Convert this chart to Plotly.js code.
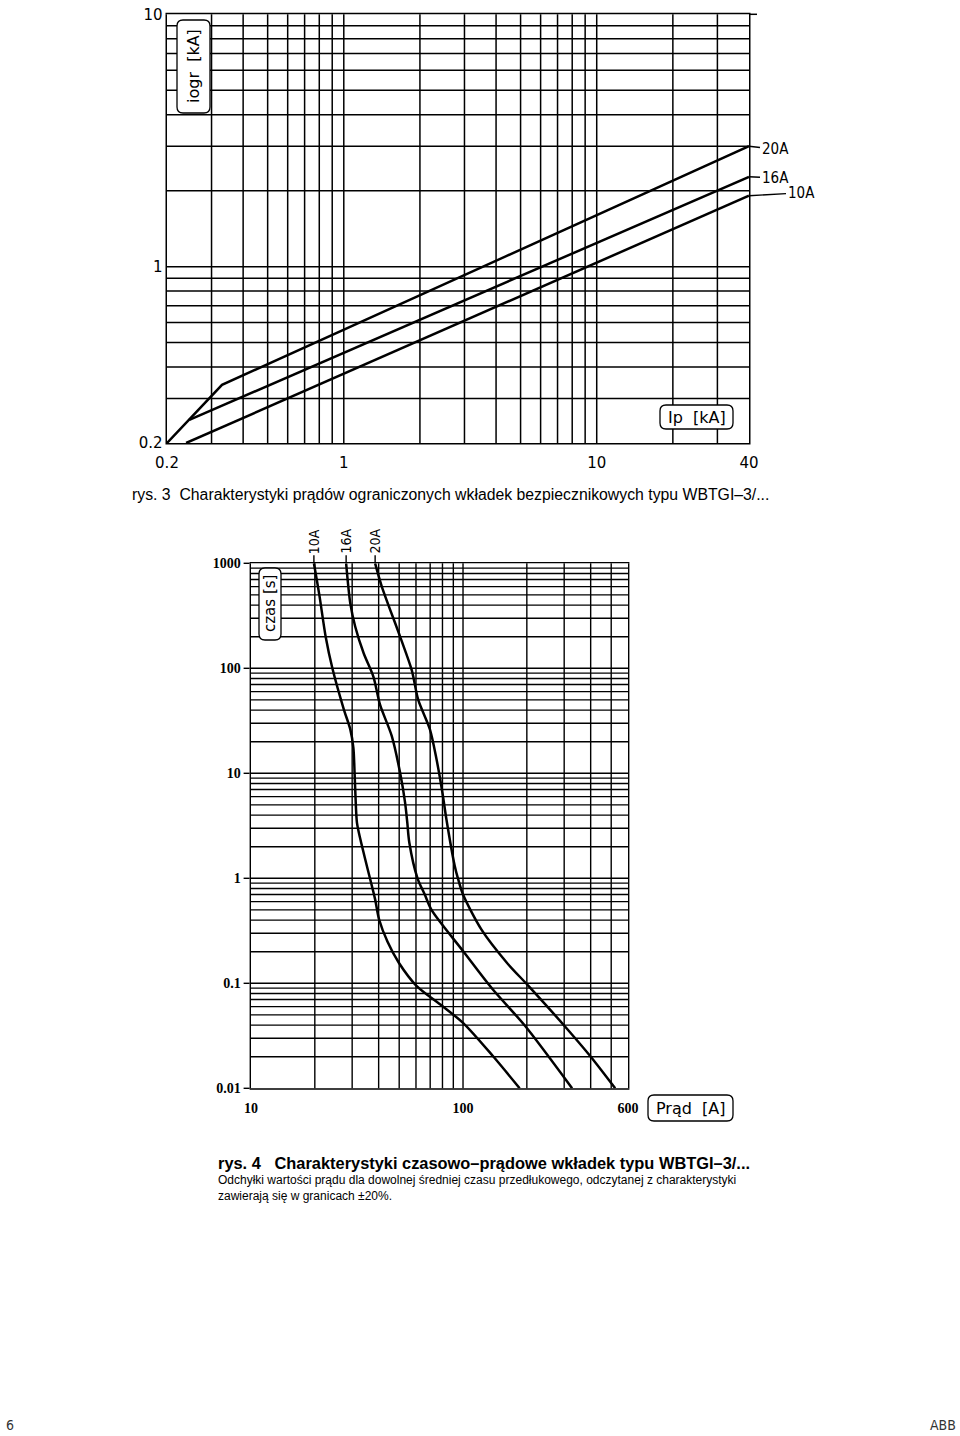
<!DOCTYPE html>
<html>
<head>
<meta charset="utf-8">
<script src="https://cdn.plot.ly/plotly-3.0.1.min.js"></script>
<style>
  body { margin: 0; background: #fff; }
  #chart { width: 960px; height: 1436px; }
  #chart path { shape-rendering: geometricPrecision !important; }
</style>
</head>
<body>
<div id="chart"></div>
<script>
// rys. 3 - prady ograniczone (log-log)
const ip_ticks = [0.2, 1, 10, 40];
const ip_tick_text = ['0.2', '1', '10', '40'];
const ip_minor = [0.3, 0.4, 0.5, 0.6, 0.7, 0.8, 0.9, 2, 3, 4, 5, 6, 7, 8, 9, 20, 30];
const iogr_ticks = [0.2, 1, 10];
const iogr_tick_text = ['0.2', '1', '10'];
const iogr_minor = [0.3, 0.4, 0.5, 0.6, 0.7, 0.8, 0.9, 2, 3, 4, 5, 6, 7, 8, 9];

const fuses = ['10A', '16A', '20A'];

const lim_10A_x = [0.238, 40];
const lim_10A_y = [0.2, 1.91];
const lim_16A_x = [0.245, 40];
const lim_16A_y = [0.247, 2.27];
const lim_20A_x = [0.2, 0.33, 40];
const lim_20A_y = [0.2, 0.34, 3.0];

// rys. 4 - czas / prad
const prad_ticks = [10, 100, 600];
const prad_tick_text = ['10', '100', '600'];
const prad_minor = [20, 30, 40, 50, 60, 70, 80, 90, 200, 300, 400, 500];
const czas_ticks = [0.01, 0.1, 1, 10, 100, 1000];
const czas_tick_text = ['0.01', '0.1', '1', '10', '100', '1000'];
const czas_minor = [0.02, 0.03, 0.04, 0.05, 0.06, 0.07, 0.08, 0.09,
    0.2, 0.3, 0.4, 0.5, 0.6, 0.7, 0.8, 0.9,
    2, 3, 4, 5, 6, 7, 8, 9,
    20, 30, 40, 50, 60, 70, 80, 90,
    200, 300, 400, 500, 600, 700, 800, 900];

const t_10A_x = [19.8, 21.0, 22.5, 24.2, 27.4, 29.4, 30.4, 30.8, 31.1, 31.6, 32.8, 35.2, 38.5, 40.2, 44.0, 49.8, 60.5, 79.6, 100, 138, 185];
const t_10A_y = [1000, 500, 200, 100, 40.7, 26.2, 17.5, 10.1, 6.1, 3.39, 2.35, 1.31, 0.63, 0.405, 0.25, 0.157, 0.094, 0.061, 0.042, 0.0204, 0.01];
const t_16A_x = [28.1, 29.4, 31.0, 34.0, 37.8, 40.6, 46.1, 50.5, 53.3, 54.6, 55.8, 61.0, 66.0, 71.0, 100, 138, 196, 327];
const t_16A_y = [1000, 416, 250, 139, 83, 45, 22.7, 10.1, 5.26, 3.39, 2.19, 1.0, 0.7, 0.5, 0.203, 0.0877, 0.0394, 0.01];
const t_20A_x = [38.5, 41.4, 50.5, 57.3, 61.5, 69.8, 75.0, 80.0, 83.5, 91.4, 95.0, 100, 122, 161, 204, 302, 397, 522];
const t_20A_y = [1000, 600, 200, 96, 50, 26.2, 13.6, 6.5, 3.65, 1.31, 0.97, 0.7, 0.326, 0.157, 0.094, 0.039, 0.0204, 0.01];

const W = 960, H = 1436;
const px = v => v / W;
const py = v => 1 - v / H;

// frames of the two charts, in pixels
const top_l = 167, top_r = 749, top_t = 14.3, top_b = 443;
const bot_l = 251, bot_r = 628, bot_t = 563.3, bot_b = 1088.3;

const narrow = 'Liberation Sans Narrow, DejaVu Sans Condensed, Arial Narrow, sans-serif';
const iso = 'DejaVu Sans, sans-serif';

function line(x, y, shape, xa, ya) {
    return {
        x: x, y: y, xaxis: xa, yaxis: ya,
        type: 'scatter', mode: 'lines',
        line: { color: '#000', width: 2.5, shape: shape, smoothing: 0.8 },
        hoverinfo: 'skip'
    };
}

function logAxis(domain, range, ticks, text, minor, font, gw, extra) {
    return Object.assign({
        type: 'log',
        domain: domain,
        range: range,
        tickmode: 'array',
        tickvals: ticks,
        ticktext: text,
        ticks: '',
        showgrid: true,
        gridcolor: '#000',
        gridwidth: gw,
        minor: { tickmode: 'array', tickvals: minor, showgrid: true, gridcolor: '#000', gridwidth: gw, ticks: '' },
        showline: true,
        mirror: true,
        linecolor: '#000',
        linewidth: gw,
        zeroline: false,
        tickfont: font,
        fixedrange: true
    }, extra || {});
}

function rrect(x0, y0, x1, y1, r) {
    const X = v => px(v).toFixed(5), Y = v => py(v).toFixed(5);
    return 'M' + X(x0 + r) + ',' + Y(y0) +
        ' L' + X(x1 - r) + ',' + Y(y0) +
        ' Q' + X(x1) + ',' + Y(y0) + ' ' + X(x1) + ',' + Y(y0 + r) +
        ' L' + X(x1) + ',' + Y(y1 - r) +
        ' Q' + X(x1) + ',' + Y(y1) + ' ' + X(x1 - r) + ',' + Y(y1) +
        ' L' + X(x0 + r) + ',' + Y(y1) +
        ' Q' + X(x0) + ',' + Y(y1) + ' ' + X(x0) + ',' + Y(y1 - r) +
        ' L' + X(x0) + ',' + Y(y0 + r) +
        ' Q' + X(x0) + ',' + Y(y0) + ' ' + X(x0 + r) + ',' + Y(y0) + ' Z';
}

function box(x0, y0, x1, y1) {
    return {
        type: 'path', xref: 'paper', yref: 'paper', layer: 'above',
        path: rrect(x0, y0, x1, y1, 6),
        fillcolor: '#fff', line: { color: '#000', width: 1.3 }
    };
}

function text(x, y, s, size, opts) {
    return Object.assign({
        xref: 'paper', yref: 'paper', x: px(x), y: py(y),
        text: s, showarrow: false, xanchor: 'left', yanchor: 'middle',
        font: { family: 'Liberation Sans, Arial, sans-serif', size: size, color: '#000' }
    }, opts || {});
}

// label hanging off the right end of a rys. 3 curve (log axis -> log10 position)
function endLabel(name, yv, ax, ay) {
    return {
        xref: 'paper', yref: 'y', x: px(top_r), y: Math.log10(yv), text: name,
        showarrow: true, arrowhead: 0, arrowwidth: 1.4, arrowcolor: '#000', standoff: 0,
        ax: ax, ay: ay, font: { family: narrow, size: 15, color: '#000' }
    };
}

// rotated label above the start of a rys. 4 curve
function topLabel(name, xv) {
    return {
        xref: 'x2', yref: 'paper', x: Math.log10(xv), y: py(bot_t), text: name, textangle: -90,
        showarrow: true, arrowhead: 0, arrowwidth: 1.4, arrowcolor: '#000', standoff: 0,
        ax: 0, ay: -22, font: { family: narrow, size: 14, color: '#000' }
    };
}

const data = [
    line(lim_10A_x, lim_10A_y, 'linear', 'x', 'y'),
    line(lim_16A_x, lim_16A_y, 'linear', 'x', 'y'),
    line(lim_20A_x, lim_20A_y, 'linear', 'x', 'y'),
    line(t_10A_x, t_10A_y, 'spline', 'x2', 'y2'),
    line(t_16A_x, t_16A_y, 'spline', 'x2', 'y2'),
    line(t_20A_x, t_20A_y, 'spline', 'x2', 'y2')
];

const topFont = { family: iso, size: 15, color: '#000' };
const botFont = { family: 'Liberation Serif, Times New Roman, serif', size: 14, color: '#000', weight: 'bold' };

const layout = {
    width: W, height: H, autosize: false,
    margin: { l: 0, r: 0, t: 0, b: 0 },
    paper_bgcolor: '#fff', plot_bgcolor: '#fff',
    showlegend: false,
    xaxis: logAxis([px(top_l), px(top_r)], [Math.log10(0.2), Math.log10(40)], ip_ticks, ip_tick_text, ip_minor, topFont, 1.5,
        { anchor: 'y', ticklabelstandoff: 5 }),
    yaxis: logAxis([py(top_b), py(top_t)], [Math.log10(0.2), 1], iogr_ticks, iogr_tick_text, iogr_minor, topFont, 1.5,
        { anchor: 'x' }),
    xaxis2: logAxis([px(bot_l), px(bot_r)], [1, Math.log10(600)], prad_ticks, prad_tick_text, prad_minor, botFont, 1.4,
        { anchor: 'y2', ticklabelstandoff: 6 }),
    yaxis2: logAxis([py(bot_b), py(bot_t)], [-2, 3], czas_ticks, czas_tick_text, czas_minor, botFont, 1.4,
        { anchor: 'x2', ticks: 'outside', ticklen: 6, tickwidth: 1.4, tickcolor: '#000' }),
    shapes: [
        // top line of rys. 3 runs a bit past the frame
        { type: 'line', xref: 'paper', yref: 'paper', x0: px(top_r), x1: px(757), y0: py(top_t), y1: py(top_t), line: { color: '#000', width: 1.5 } },
        box(177, 20, 210, 113),
        box(660, 405, 733, 429),
        box(259, 568, 281, 640),
        box(648, 1095, 733, 1121)
    ],
    annotations: [
        endLabel(fuses[2], lim_20A_y[lim_20A_y.length - 1], 26, 3),
        endLabel(fuses[1], lim_16A_y[lim_16A_y.length - 1], 26, 1),
        endLabel(fuses[0], lim_10A_y[lim_10A_y.length - 1], 52, -3),
        topLabel(fuses[0], t_10A_x[0]),
        topLabel(fuses[1], t_16A_x[0]),
        topLabel(fuses[2], t_20A_x[0]),
        // axis name boxes
        text(193.5, 66.5, 'iogr  [kA]', 16, { xanchor: 'center', textangle: -90, font: { family: iso, size: 16, color: '#000' } }),
        text(696.5, 417, 'Ip  [kA]', 16, { xanchor: 'center', font: { family: iso, size: 16, color: '#000' } }),
        text(270, 604, 'czas [s]', 15, { xanchor: 'center', textangle: -90, font: { family: iso, size: 15, color: '#000' } }),
        text(690.5, 1108, 'Prąd  [A]', 16, { xanchor: 'center', font: { family: iso, size: 16, color: '#000' } }),
        // captions
        text(130, 494, 'rys. 3  Charakterystyki prądów ograniczonych wkładek bezpiecznikowych typu WBTGI–3/...', 15.8),
        text(216, 1163, '<b>rys. 4   Charakterystyki czasowo–prądowe wkładek typu WBTGI–3/...</b>', 16.4),
        text(216, 1180, 'Odchyłki wartości prądu dla dowolnej średniej czasu przedłukowego, odczytanej z charakterystyki', 12),
        text(216, 1196, 'zawierają się w granicach ±20%.', 12),
        text(4, 1425, '6', 13, { font: { family: narrow, size: 14, color: '#333' } }),
        text(958, 1425, 'ABB', 13, { xanchor: 'right', font: { family: narrow, size: 14, color: '#333' } })
    ]
};

Plotly.newPlot('chart', data, layout, { displayModeBar: false, staticPlot: true });
</script>
</body>
</html>
